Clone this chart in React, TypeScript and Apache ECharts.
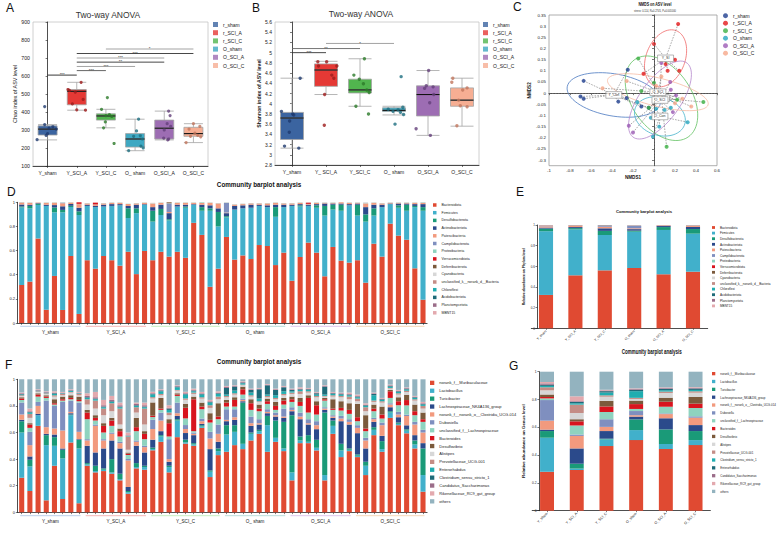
import { useEffect, useRef } from "react";
import * as echarts from "echarts";

const FONT = "'Liberation Sans', Arial, sans-serif";

// ---------- shared groups ----------
const groupNames = ["Y_sham", "Y_SCI_A", "Y_SCI_C", "O_sham", "O_SCI_A", "O_SCI_C"];
const legendGroups = ["r_sham", "r_SCI_A", "r_SCI_C", "O_sham", "O_SCI_A", "O_SCI_C"];
const catsA = ["Y_sham", "Y_SCI_A", "Y_SCI_C", "O_ sham", "O_SCI_A", "O_SCI_C"];
const catsB = ["Y_sham", "Y_ SCI_A", "Y_SCI_C", "O_ sham", "O_SCI_A", "O_SCI_C"];
const barGroupLabels = ["Y_sham", "Y_SCI_A", "Y_SCI_C", "O_ sham", "O_SCI_A", "O_SCI_C"];
const groupSizes = [8, 8, 9, 8, 8, 9];
const boxColors = ["#3b64a0", "#e53935", "#51b54e", "#3ea8c2", "#9d6db3", "#f6ae93"];
const dotColors = ["#1e3a6e", "#9e1b1b", "#2c7a29", "#1d6e80", "#64407a", "#c2765c"];
const underlineColors = ["#a9c3e3", "#f2a3a3", "#b5eab0", "#a6d4d2", "#d5b6e6", "#f2cda6"];

// ---------- A: Chao ----------
const chaoBox = [
  [245, 272, 305, 323, 330],
  [410, 440, 515, 525, 565],
  [312, 355, 378, 390, 415],
  [185, 205, 250, 280, 360],
  [245, 250, 310, 355, 405],
  [230, 265, 280, 315, 335],
];
const chaoPts = [
  [[-0.36, 246], [-0.1, 430], [-0.1, 330], [0.18, 318], [0.05, 310], [0.3, 305], [0.0, 280], [-0.05, 270]],
  [[-0.3, 525], [-0.25, 520], [-0.05, 510], [0.15, 565], [0.22, 470], [0.0, 412], [0.3, 410], [-0.15, 445]],
  [[0.05, 480], [-0.15, 415], [0.12, 385], [0.0, 380], [0.2, 375], [-0.02, 345], [-0.08, 312], [0.28, 225]],
  [[0.12, 360], [0.05, 295], [-0.05, 265], [0.18, 268], [0.25, 250], [0.2, 210], [0.28, 200], [-0.22, 185]],
  [[0.15, 405], [0.2, 380], [0.1, 335], [0.22, 320], [0.0, 300], [-0.02, 255], [0.12, 245], [0.15, 250]],
  [[0.0, 335], [0.22, 320], [-0.15, 305], [0.05, 282], [0.15, 270], [-0.1, 265], [0.25, 262], [-0.25, 230]],
];
const sigA = [[0, 1, 605], [1, 2, 630], [1, 3, 653], [1, 4, 677], [1, 4, 700], [1, 5, 725], [2, 5, 750]];
const sigALabels = ["***", "***", "***", "**", "***", "***", "*"];
const sigAColors = ["#222", "#555", "#999", "#333", "#999", "#333", "#999"];

// ---------- B: Shannon ----------
const shanBox = [
  [3.13, 3.3, 3.72, 3.83, 4.5],
  [4.18, 4.34, 4.66, 4.78, 4.83],
  [3.95, 4.21, 4.27, 4.48, 4.88],
  [3.78, 3.85, 3.87, 3.92, 3.95],
  [3.38, 3.76, 4.18, 4.35, 4.65],
  [3.56, 3.95, 4.07, 4.31, 4.5],
];
const shanPts = [
  [[-0.31, 3.85], [0.02, 3.8], [0.05, 3.78], [-0.07, 3.66], [-0.08, 3.44], [-0.22, 3.17], [0.2, 3.13], [0.24, 4.5]],
  [[-0.24, 4.82], [0.02, 4.82], [-0.22, 4.74], [0.32, 4.74], [0.17, 4.56], [0.23, 4.5], [-0.04, 4.18], [-0.05, 3.58]],
  [[0.13, 4.88], [-0.18, 4.56], [-0.02, 4.48], [0.1, 4.39], [0.2, 4.27], [0.27, 4.22], [-0.12, 3.95], [0.25, 3.8]],
  [[0.21, 4.53], [0.26, 3.93], [0.12, 3.88], [-0.03, 3.85], [-0.17, 3.89], [0.19, 3.83], [0.03, 3.6], [0.28, 3.79]],
  [[0.02, 4.65], [-0.05, 4.35], [0.15, 4.33], [0.17, 4.18], [0.05, 4.02], [-0.35, 3.51], [0.07, 3.38], [-0.1, 4.3]],
  [[-0.27, 4.5], [-0.3, 4.42], [0.15, 4.31], [0.02, 4.27], [-0.1, 4.07], [-0.05, 3.96], [0.15, 3.94], [-0.15, 3.57]],
];
const sigB = [[0, 1, 5.0], [0, 2, 5.08], [1, 3, 5.18]];
const sigBLabels = ["***", "**", "*"];
const sigBColors = ["#333", "#666", "#999"];

// ---------- C: NMDS ----------
const nmdsPts = [
  [[-0.67, 0.055], [-0.7, -0.015], [-0.67, -0.025], [-0.25, 0.105], [-0.34, -0.038], [-0.26, -0.022], [-0.05, -0.065], [-0.12, -0.06]],
  [[0.23, 0.31], [0.0, 0.22], [0.2, 0.15], [0.11, 0.13], [0.24, 0.1], [0.13, 0.1], [-0.1, 0.087], [0.07, 0.15]],
  [[-0.15, 0.155], [0.47, -0.04], [0.12, -0.24], [-0.12, 0.01], [-0.05, -0.065], [0.0, 0.047], [0.08, -0.02], [0.22, -0.03]],
  [[-0.01, -0.195], [0.05, -0.15], [0.32, -0.13], [-0.03, -0.11], [0.02, -0.07], [-0.16, -0.04], [0.16, -0.065], [0.1, -0.075]],
  [[-0.24, -0.146], [-0.2, -0.176], [0.18, -0.085], [0.16, 0.015], [0.155, 0.05], [0.07, 0.135], [0.21, -0.01], [0.12, -0.03]],
  [[-0.49, 0.022], [-0.26, 0.054], [0.02, 0.033], [0.27, -0.025], [0.355, -0.06], [0.07, 0.075], [0.2, -0.045], [0.13, -0.02]],
];
const centroidLabels = ["Y_Con", "Y_SI", "Y_SC", "O_Con", "O_SCI", "O_SCI"];
const cDotColors = ["#1f3f8f", "#e41a1c", "#3cb044", "#27a6bf", "#9c5bb5", "#f6a889"];
const cEllColors = ["#4a78c0", "#f06a6a", "#62c262", "#45b3cb", "#b486cc", "#f6bba3"];
const cTicksY = [-0.3, -0.25, -0.2, -0.15, -0.1, -0.05, 0, 0.05, 0.1, 0.15, 0.2, 0.25, 0.3, 0.35];

// ---------- D / E: phylum ----------
const phylumNames = [
  "Bacteroidota", "Firmicutes", "Desulfobacterota", "Actinobacteriota", "Patescibacteria",
  "Campilobacterota", "Proteobacteria", "Verrucomicrobiota", "Deferribacterota", "Cyanobacteria",
  "unclassified_k__norank_d__Bacteria", "Chloroflexi", "Acidobacteriota", "Planctomycetota", "MBNT15",
];
const palette = [
  "#e04a32", "#41b0cb", "#1a9a78", "#2b4a8b", "#f29a7e", "#7f8fbf", "#8fd3bf", "#d8141e",
  "#7b5a3c", "#d7d7d7", "#c48d86", "#20adb0", "#1e6a78", "#9b6d89", "#e3a9ae", "#93b3bf",
];
const phBacteroidota = [0.315, 0.343, 0.7, 0.11, 0.39, 0.108, 0.555, 0.075, 0.52, 0.45, 0.555, 0.52, 0.475, 0.59, 0.405, 0.597, 0.52, 0.59, 0.55, 0.59, 0.54, 0.83, 0.73, 0.3, 0.45, 0.713, 0.525, 0.56, 0.53, 0.646, 0.638, 0.48, 0.583, 0.35, 0.547, 0.666, 0.583, 0.387, 0.63, 0.517, 0.5, 0.52, 0.334, 0.657, 0.55, 0.823, 0.724, 0.69, 0.453, 0.193];
const phFirmicutes = [0.641, 0.607, 0.278, 0.86, 0.527, 0.809, 0.406, 0.82, 0.45, 0.51, 0.41, 0.45, 0.5, 0.28, 0.505, 0.383, 0.32, 0.305, 0.3, 0.375, 0.415, 0.15, 0.2, 0.63, 0.35, 0.162, 0.415, 0.39, 0.425, 0.324, 0.322, 0.4, 0.377, 0.62, 0.418, 0.304, 0.372, 0.503, 0.31, 0.413, 0.475, 0.37, 0.506, 0.233, 0.41, 0.162, 0.231, 0.24, 0.507, 0.737];
const phDesulfo = [0.01, 0.02, 0.01, 0, 0.04, 0.02, 0.01, 0.03, 0, 0, 0, 0, 0, 0.08, 0.04, 0, 0.09, 0.05, 0.01, 0, 0.01, 0, 0.03, 0.02, 0.12, 0.01, 0, 0, 0, 0, 0, 0.08, 0, 0, 0.01, 0, 0.02, 0.08, 0.04, 0.05, 0, 0.09, 0.06, 0.06, 0, 0, 0.02, 0.05, 0.01, 0.03];
const phActino = [0.015, 0.01, 0.005, 0.01, 0.02, 0.03, 0.015, 0.03, 0.01, 0.01, 0.015, 0.015, 0.01, 0.02, 0.03, 0.005, 0.03, 0.035, 0.05, 0.015, 0.015, 0.005, 0.02, 0.025, 0.03, 0.025, 0.03, 0.025, 0.025, 0.01, 0.015, 0.02, 0.02, 0.01, 0.01, 0.01, 0.01, 0.02, 0.01, 0.01, 0.01, 0.01, 0.06, 0.03, 0.02, 0.005, 0.015, 0.01, 0.015, 0.025];
const phPatesci = [0.015, 0.015, 0.005, 0.015, 0.02, 0.025, 0.012, 0.03, 0.01, 0.01, 0.01, 0.01, 0.01, 0.015, 0.01, 0.01, 0.03, 0.015, 0.01, 0.015, 0.015, 0.01, 0.015, 0.02, 0.04, 0.005, 0.01, 0.01, 0.01, 0.01, 0.015, 0.015, 0.01, 0.01, 0.01, 0.005, 0.01, 0.005, 0.005, 0.01, 0.01, 0.005, 0.03, 0.015, 0.01, 0.005, 0.005, 0.005, 0.01, 0.01];
const phCampilo = [0, 0, 0, 0, 0, 0.005, 0, 0, 0, 0, 0, 0, 0, 0, 0, 0, 0, 0, 0.07, 0, 0, 0, 0, 0, 0, 0.08, 0, 0, 0, 0, 0, 0, 0, 0, 0, 0, 0, 0, 0, 0, 0, 0, 0, 0, 0, 0, 0, 0, 0, 0];
const phProteo = [0.002, 0.002, 0.001, 0.002, 0.002, 0.002, 0.002, 0.002, 0.002, 0.002, 0.002, 0.002, 0.002, 0.002, 0.002, 0.002, 0.002, 0.002, 0.002, 0.002, 0.002, 0.002, 0.005, 0.002, 0.002, 0.002, 0.002, 0.002, 0.002, 0.002, 0.002, 0.002, 0.002, 0.002, 0.002, 0.002, 0.002, 0.002, 0.002, 0.002, 0.002, 0.002, 0.002, 0.002, 0.002, 0.002, 0.002, 0.002, 0.002, 0.002];
const phVerruco = [0, 0, 0, 0, 0, 0, 0, 0.015, 0, 0.015, 0, 0, 0, 0, 0, 0, 0, 0, 0, 0, 0, 0, 0, 0, 0, 0, 0, 0, 0, 0, 0, 0, 0, 0, 0, 0.01, 0, 0, 0, 0, 0, 0, 0, 0, 0, 0, 0, 0, 0, 0];
const phDeferri = [0, 0, 0, 0, 0, 0, 0, 0, 0, 0, 0, 0, 0, 0, 0, 0, 0, 0, 0.01, 0, 0, 0, 0, 0, 0, 0, 0, 0, 0, 0, 0, 0, 0, 0, 0, 0, 0, 0, 0, 0, 0, 0, 0, 0, 0, 0, 0, 0, 0, 0];
const phCyano = [0.001, 0.001, 0.001, 0.001, 0.001, 0.001, 0.001, 0.001, 0.001, 0.001, 0.001, 0.001, 0.001, 0.001, 0.001, 0.001, 0.002, 0.001, 0.001, 0.001, 0.001, 0.001, 0.001, 0.001, 0.001, 0.001, 0.001, 0.001, 0.001, 0.001, 0.001, 0.001, 0.001, 0.001, 0.001, 0.001, 0.001, 0.001, 0.001, 0.001, 0.001, 0.001, 0.001, 0.001, 0.001, 0.001, 0.001, 0.001, 0.001, 0.001];
const phUnclass = [0.001, 0.001, 0.001, 0.001, 0.001, 0.001, 0.001, 0.001, 0.001, 0.001, 0.001, 0.001, 0.001, 0.001, 0.001, 0.001, 0.001, 0.001, 0.001, 0.001, 0.001, 0.001, 0.001, 0.001, 0.001, 0.001, 0.001, 0.001, 0.001, 0.001, 0.001, 0.001, 0.001, 0.001, 0.001, 0.001, 0.001, 0.001, 0.001, 0.001, 0.001, 0.001, 0.002, 0.001, 0.001, 0.001, 0.001, 0.001, 0.001, 0.001];
const phChloro = [0.001, 0, 0, 0, 0, 0, 0, 0, 0, 0, 0, 0, 0, 0, 0, 0, 0, 0, 0, 0, 0, 0, 0, 0, 0, 0, 0, 0, 0, 0, 0, 0, 0, 0, 0, 0, 0, 0, 0, 0, 0, 0, 0, 0, 0, 0, 0, 0, 0, 0.001];
const phAcido = [0, 0, 0, 0, 0, 0, 0, 0, 0, 0, 0, 0, 0, 0, 0, 0, 0, 0, 0, 0, 0, 0, 0, 0, 0, 0, 0, 0, 0, 0, 0, 0, 0, 0, 0, 0, 0, 0, 0, 0, 0, 0, 0.001, 0, 0, 0, 0, 0, 0, 0];
const phPlancto = [0, 0, 0, 0, 0, 0, 0, 0, 0, 0, 0, 0, 0, 0, 0, 0, 0, 0, 0, 0, 0, 0, 0, 0, 0, 0, 0, 0, 0, 0, 0, 0, 0, 0, 0, 0, 0, 0, 0, 0, 0, 0, 0, 0, 0, 0, 0, 0, 0, 0];
const phMBNT15 = [0, 0, 0, 0, 0, 0, 0, 0, 0, 0, 0, 0, 0, 0, 0, 0, 0, 0, 0, 0, 0, 0, 0, 0, 0, 0, 0, 0, 0, 0, 0, 0, 0, 0, 0, 0, 0, 0, 0, 0, 0, 0, 0, 0, 0, 0, 0, 0, 0, 0];
const phylumSamples = [phBacteroidota, phFirmicutes, phDesulfo, phActino, phPatesci, phCampilo, phProteo, phVerruco, phDeferri, phCyano, phUnclass, phChloro, phAcido, phPlancto, phMBNT15];

const eBacteroidota = [0.323, 0.513, 0.561, 0.584, 0.523, 0.548];
const eFirmicutes = [0.617, 0.445, 0.342, 0.351, 0.429, 0.368];
const eDesulfo = [0.025, 0.012, 0.04, 0.01, 0.028, 0.045];
const eActino = [0.01, 0.01, 0.025, 0.015, 0.01, 0.02];
const ePatesci = [0.012, 0.012, 0.015, 0.008, 0.005, 0.012];
const eCampilo = [0.005, 0.002, 0.012, 0.025, 0.001, 0.002];
const eProteo = [0.002, 0.002, 0.002, 0.002, 0.001, 0.002];
const eVerruco = [0.002, 0.002, 0.001, 0.001, 0.001, 0.001];
const eDeferri = [0.001, 0.001, 0.002, 0.001, 0.001, 0.001];
const eCyano = [0.001, 0.001, 0.001, 0.001, 0.001, 0.001];
const eUnclass = [0.001, 0.001, 0.001, 0.001, 0.001, 0.002];
const eChloro = [0, 0, 0, 0, 0, 0];
const eAcido = [0, 0, 0, 0, 0, 0];
const ePlancto = [0, 0, 0, 0, 0, 0];
const eMBNT15 = [0, 0, 0, 0, 0, 0];
const phylumGroups = [eBacteroidota, eFirmicutes, eDesulfo, eActino, ePatesci, eCampilo, eProteo, eVerruco, eDeferri, eCyano, eUnclass, eChloro, eAcido, ePlancto, eMBNT15];

// ---------- F / G: genus ----------
const genusNames = [
  "norank_f__Muribaculaceae", "Lactobacillus", "Turicibacter", "Lachnospiraceae_NK4A136_group",
  "norank_f__norank_o__Clostridia_UCG-014", "Dubosiella", "unclassified_f__Lachnospiraceae", "Bacteroides",
  "Desulfovibrio", "Alistipes", "Prevotellaceae_UCG-001", "Enterorhabdus", "Clostridium_sensu_stricto_1",
  "Candidatus_Saccharimonas", "Rikenellaceae_RC9_gut_group", "others",
];
const genusNamesG = [
  "norank_f__Muribaculaceae", "Lactobacillus", "Turicibacter", "Lachnospiraceae_NK4A136_group",
  "norank_f__norank_o__Clostridia_UCG-014", "Dubosiella", "unclassified_f__Lachnospiraceae", "Bacteroides",
  "Desulfovibrio", "Alistipes", "Prevotellaceae_UCG-001", "Clostridium_sensu_stricto_1", "Enterorhabdus",
  "Candidatus_Saccharimonas", "Rikenellaceae_RC9_gut_group", "others",
];
// rows: one sample each, columns in genusNames order
const genusYsham = [
  [0.26, 0.34, 0.085, 0.01, 0.04, 0.09, 0.02, 0.01, 0.01, 0.01, 0.005, 0.005, 0.005, 0.005, 0.005, 0.1],
  [0.16, 0.185, 0.05, 0.025, 0.085, 0.1, 0.03, 0.025, 0.01, 0.04, 0.03, 0.01, 0.005, 0.005, 0.02, 0.22],
  [0.65, 0.08, 0, 0.01, 0.06, 0.03, 0.04, 0.015, 0.01, 0.01, 0.005, 0.005, 0, 0.005, 0.005, 0.075],
  [0.09, 0.415, 0.075, 0.01, 0.05, 0.2, 0.02, 0.01, 0.01, 0.01, 0.005, 0.005, 0, 0.005, 0.005, 0.09],
  [0.35, 0.15, 0.065, 0.02, 0.045, 0.17, 0.01, 0.01, 0.03, 0.02, 0.01, 0.01, 0.005, 0.005, 0.01, 0.09],
  [0.1, 0.305, 0.065, 0.01, 0.135, 0.215, 0.01, 0.01, 0.02, 0.01, 0.01, 0.005, 0, 0.005, 0.005, 0.095],
  [0.525, 0.205, 0.005, 0.01, 0.01, 0.085, 0.01, 0.01, 0.02, 0.02, 0.005, 0.01, 0, 0.005, 0.005, 0.075],
  [0.068, 0.412, 0.065, 0.005, 0.055, 0.22, 0.01, 0.01, 0.025, 0.01, 0.01, 0.005, 0, 0.005, 0.005, 0.095],
];
const genusYSCIA = [
  [0.35, 0.01, 0.01, 0.13, 0.04, 0.01, 0.15, 0.05, 0.02, 0.04, 0.04, 0.01, 0.005, 0.01, 0.02, 0.105],
  [0.3, 0.01, 0.04, 0.1, 0.2, 0.01, 0.03, 0.02, 0.02, 0.05, 0.06, 0.01, 0.005, 0.01, 0.04, 0.095],
  [0.31, 0.01, 0.01, 0.15, 0.06, 0.01, 0.05, 0.05, 0.02, 0.06, 0.05, 0.01, 0.005, 0.01, 0.04, 0.155],
  [0.29, 0.01, 0.1, 0.14, 0.05, 0.01, 0.05, 0.04, 0.02, 0.05, 0.06, 0.01, 0.005, 0.01, 0.03, 0.125],
  [0.24, 0.01, 0.04, 0.19, 0.04, 0.01, 0.04, 0.04, 0.02, 0.03, 0.12, 0.01, 0.005, 0.01, 0.02, 0.175],
  [0.14, 0.01, 0.01, 0.03, 0.2, 0.01, 0.03, 0.01, 0.01, 0.02, 0.1, 0.005, 0, 0.005, 0.02, 0.4],
  [0.33, 0.01, 0.03, 0.13, 0.03, 0.01, 0.07, 0.03, 0.07, 0.04, 0.04, 0.01, 0.005, 0.01, 0.01, 0.175],
  [0.32, 0.02, 0.01, 0.1, 0.04, 0.01, 0.05, 0.04, 0.02, 0.05, 0.12, 0.01, 0.005, 0.01, 0.02, 0.175],
];
const genusYSCIC = [
  [0.466, 0.01, 0.01, 0.06, 0.08, 0.07, 0.02, 0.01, 0.1, 0.03, 0.01, 0.02, 0.005, 0.005, 0.01, 0.094],
  [0.53, 0.04, 0.01, 0.03, 0.08, 0.06, 0.02, 0.01, 0.08, 0.02, 0.01, 0.02, 0.005, 0.005, 0.005, 0.075],
  [0.3, 0.04, 0.01, 0.03, 0.02, 0.15, 0.02, 0.1, 0.03, 0.03, 0.02, 0.02, 0.01, 0.005, 0.02, 0.195],
  [0.565, 0.125, 0.01, 0.025, 0.02, 0.08, 0.05, 0.01, 0.01, 0.02, 0.005, 0.02, 0.005, 0.005, 0.005, 0.045],
  [0.516, 0.01, 0.02, 0.05, 0.03, 0.03, 0.05, 0.08, 0.03, 0.03, 0.01, 0.03, 0.005, 0.005, 0.01, 0.094],
  [0.5, 0.01, 0.01, 0.06, 0.01, 0.01, 0.01, 0.24, 0.02, 0.02, 0.01, 0.01, 0.005, 0.005, 0.01, 0.07],
  [0.635, 0.01, 0.01, 0.01, 0.02, 0.02, 0.07, 0.02, 0.03, 0.03, 0.01, 0.02, 0.005, 0.005, 0.01, 0.095],
  [0.265, 0.04, 0.01, 0.16, 0.08, 0.05, 0.07, 0.02, 0.05, 0.04, 0.02, 0.02, 0.005, 0.005, 0.01, 0.155],
  [0.43, 0.03, 0.02, 0.05, 0.06, 0.07, 0.04, 0.02, 0.1, 0.03, 0.02, 0.02, 0.005, 0.005, 0.01, 0.09],
];
const genusOsham = [
  [0.455, 0.13, 0.07, 0.03, 0.01, 0.08, 0.02, 0.03, 0.02, 0.02, 0.01, 0.01, 0.05, 0.01, 0.005, 0.05],
  [0.505, 0.1, 0.05, 0.04, 0.02, 0.06, 0.02, 0.05, 0.02, 0.02, 0.01, 0.02, 0.03, 0.005, 0.005, 0.045],
  [0.475, 0.04, 0.31, 0.01, 0.01, 0.01, 0.03, 0.04, 0.02, 0.01, 0.005, 0.01, 0.005, 0.005, 0.005, 0.015],
  [0.54, 0.05, 0.01, 0.05, 0.02, 0.05, 0.05, 0.05, 0.03, 0.02, 0.01, 0.02, 0.02, 0.005, 0.005, 0.07],
  [0.59, 0.02, 0.01, 0.04, 0.01, 0.03, 0.06, 0.02, 0.03, 0.02, 0.005, 0.02, 0.07, 0.005, 0.005, 0.065],
  [0.455, 0.2, 0.07, 0.02, 0.01, 0.02, 0.04, 0.02, 0.02, 0.01, 0.01, 0.01, 0.07, 0.005, 0.005, 0.035],
  [0.53, 0.03, 0.13, 0.03, 0.01, 0.02, 0.02, 0.03, 0.03, 0.02, 0.01, 0.02, 0.04, 0.005, 0.005, 0.07],
  [0.46, 0.02, 0.2, 0.03, 0.01, 0.06, 0.03, 0.03, 0.02, 0.02, 0.01, 0.02, 0.03, 0.005, 0.005, 0.05],
];
const genusOSCIA = [
  [0.24, 0.06, 0.43, 0.03, 0.01, 0.02, 0.04, 0.02, 0.02, 0.02, 0.01, 0.01, 0.01, 0.005, 0.005, 0.07],
  [0.52, 0.02, 0.03, 0.13, 0.02, 0.03, 0.05, 0.03, 0.03, 0.03, 0.02, 0.01, 0.005, 0.005, 0.01, 0.06],
  [0.52, 0.01, 0.05, 0.08, 0.01, 0.03, 0.05, 0.11, 0.02, 0.02, 0.01, 0.01, 0.005, 0.005, 0.005, 0.065],
  [0.465, 0.02, 0.06, 0.08, 0.03, 0.03, 0.05, 0.07, 0.03, 0.03, 0.01, 0.01, 0.01, 0.005, 0.005, 0.095],
  [0.24, 0.04, 0.47, 0.02, 0.01, 0.01, 0.05, 0.01, 0.01, 0.01, 0.005, 0.01, 0.06, 0.005, 0.005, 0.045],
  [0.59, 0.06, 0.04, 0.02, 0.01, 0.01, 0.04, 0.01, 0.07, 0.02, 0.01, 0.01, 0.005, 0.005, 0.005, 0.095],
  [0.415, 0.05, 0.05, 0.17, 0.02, 0.02, 0.04, 0.02, 0.05, 0.03, 0.01, 0.01, 0.005, 0.005, 0.005, 0.1],
  [0.46, 0.01, 0.01, 0.18, 0.02, 0.02, 0.04, 0.03, 0.05, 0.03, 0.02, 0.01, 0.005, 0.005, 0.01, 0.1],
];
const genusOSCIC = [
  [0.415, 0.01, 0.01, 0.16, 0.04, 0.02, 0.03, 0.03, 0.1, 0.02, 0.02, 0.01, 0.005, 0.005, 0.01, 0.115],
  [0.28, 0.07, 0.03, 0.1, 0.06, 0.02, 0.05, 0.02, 0.1, 0.03, 0.03, 0.01, 0.005, 0.005, 0.01, 0.18],
  [0.58, 0.04, 0.02, 0.04, 0.02, 0.01, 0.05, 0.02, 0.03, 0.02, 0.01, 0.04, 0.01, 0.005, 0.005, 0.1],
  [0.455, 0.02, 0.06, 0.04, 0.08, 0.02, 0.03, 0.03, 0.06, 0.03, 0.01, 0.01, 0.005, 0.005, 0.005, 0.14],
  [0.71, 0.04, 0.01, 0.03, 0.02, 0.01, 0.04, 0.05, 0.01, 0.01, 0.005, 0.01, 0.005, 0.005, 0.005, 0.04],
  [0.655, 0.01, 0.01, 0.04, 0.02, 0.02, 0.05, 0.03, 0.03, 0.02, 0.01, 0.01, 0.005, 0.005, 0.005, 0.08],
  [0.594, 0.02, 0.01, 0.03, 0.07, 0.01, 0.07, 0.04, 0.04, 0.02, 0.01, 0.01, 0.005, 0.005, 0.005, 0.061],
  [0.48, 0.03, 0.03, 0.04, 0.08, 0.02, 0.05, 0.03, 0.05, 0.03, 0.01, 0.01, 0.005, 0.005, 0.005, 0.125],
  [0.155, 0.125, 0.2, 0.04, 0.08, 0.02, 0.06, 0.02, 0.05, 0.03, 0.02, 0.01, 0.005, 0.005, 0.01, 0.17],
];
// G: group means, columns in genusNamesG order
const genusGroupRows = [
  [0.28, 0.245, 0.048, 0.01, 0.065, 0.148, 0.012, 0.01, 0.018, 0.03, 0.022, 0.01, 0.008, 0.01, 0.01, 0.074],
  [0.293, 0.01, 0.035, 0.11, 0.09, 0.01, 0.065, 0.03, 0.015, 0.045, 0.06, 0.01, 0.01, 0.005, 0.035, 0.177],
  [0.465, 0.048, 0.005, 0.055, 0.03, 0.055, 0.052, 0.04, 0.04, 0.03, 0.01, 0.02, 0.01, 0.005, 0.005, 0.13],
  [0.508, 0.072, 0.077, 0.02, 0.01, 0.03, 0.015, 0.035, 0.025, 0.012, 0.008, 0.048, 0.01, 0.005, 0.005, 0.12],
  [0.444, 0.036, 0.105, 0.08, 0.03, 0.005, 0.048, 0.036, 0.029, 0.034, 0.01, 0.01, 0.01, 0.005, 0.005, 0.113],
  [0.472, 0.036, 0.065, 0.043, 0.053, 0.01, 0.06, 0.031, 0.048, 0.031, 0.01, 0.01, 0.01, 0.005, 0.005, 0.111],
];
const genusSampleRows = [...genusYsham, ...genusYSCIA, ...genusYSCIC, ...genusOsham, ...genusOSCIA, ...genusOSCIC];

// ---------- helpers ----------
const sampleIds = groupNames.flatMap((g, i) => Array.from({ length: groupSizes[i] }, (_, k) => `${g}_${k + 1}`));
const groupRanges = (() => {
  const out: number[][] = [];
  let s = 0;
  groupSizes.forEach((n, i) => { out.push([s, s + n - 1, i]); s += n; });
  return out;
})();
const fmt1 = (v: number) => String(Math.round(v * 10) / 10);
const fmt2 = (v: number) => String(Math.round(v * 100) / 100);

function stats(pts: number[][]) {
  const n = pts.length;
  const mx = pts.reduce((a, p) => a + p[0], 0) / n;
  const my = pts.reduce((a, p) => a + p[1], 0) / n;
  let sxx = 0, syy = 0, sxy = 0;
  pts.forEach((p) => { sxx += (p[0] - mx) ** 2; syy += (p[1] - my) ** 2; sxy += (p[0] - mx) * (p[1] - my); });
  return { mx, my, sxx: sxx / (n - 1), syy: syy / (n - 1), sxy: sxy / (n - 1) };
}

function txt(text: string, x: number, y: number, size: number, extra: any = {}) {
  const { align = "center", weight = "normal", scaleX = 1, rotation = 0, color = "#111" } = extra;
  return {
    type: "text", x, y, scaleX, rotation, silent: true,
    style: {
      text, fontSize: size, fontFamily: FONT, fontWeight: weight, fill: color,
      textAlign: align, align, textVerticalAlign: "middle", verticalAlign: "middle",
    },
  };
}

const axisLineDark = { show: true, lineStyle: { color: "#222", width: 0.8 } };
const tickDark = (len = 2) => ({ show: true, length: len, lineStyle: { color: "#222", width: 0.6 } });
const lab = (size: number, extra: any = {}) => ({ fontSize: size, color: "#222", fontFamily: FONT, ...extra });

function legendOf(left: number, top: number, names: string[], colors: string[], icon: string, w: number, h: number, gap: number, fs: number) {
  return {
    left, top, orient: "vertical", padding: 0, itemWidth: w, itemHeight: h, itemGap: gap,
    icon, selectedMode: false,
    textStyle: { fontSize: fs, fontFamily: FONT, color: "#222", lineHeight: h, padding: 0 },
    data: names.map((n, i) => ({ name: n, icon, itemStyle: { color: colors[i], borderWidth: 0 } })),
  };
}

function sigSeries(xAxisIndex: number, yAxisIndex: number, lines: number[][], labels: string[], colors: string[]) {
  return {
    type: "custom", xAxisIndex, yAxisIndex, silent: true, z: 5,
    encode: { x: [0, 1], y: 2 },
    data: lines,
    renderItem: (params: any, api: any) => {
      const i = params.dataIndex;
      const p1 = api.coord([api.value(0), api.value(2)]);
      const p2 = api.coord([api.value(1), api.value(2)]);
      return {
        type: "group",
        children: [
          { type: "line", shape: { x1: p1[0], y1: p1[1], x2: p2[0], y2: p2[1] }, style: { stroke: colors[i], lineWidth: 0.9 } },
          {
            type: "text",
            style: {
              text: labels[i], x: (p1[0] + p2[0]) / 2, y: p1[1] + 1.6, fontSize: 4.3, fontFamily: FONT, fill: "#222",
              textAlign: "center", align: "center", textVerticalAlign: "bottom", verticalAlign: "bottom",
            },
          },
        ],
      };
    },
  };
}

function medianSeries(xAxisIndex: number, yAxisIndex: number, boxes: number[][], halfW: number) {
  return {
    type: "custom", xAxisIndex, yAxisIndex, silent: true, z: 4,
    data: boxes.map((b, i) => [i, b[2]]),
    renderItem: (_p: any, api: any) => {
      const c = api.coord([api.value(0), api.value(1)]);
      return { type: "line", shape: { x1: c[0] - halfW, y1: c[1], x2: c[0] + halfW, y2: c[1] }, style: { stroke: "#111", lineWidth: 1.1 } };
    },
  };
}

function boxSeries(xAxisIndex: number, yAxisIndex: number, boxes: number[][], w: number) {
  return {
    type: "boxplot", xAxisIndex, yAxisIndex, boxWidth: [w, w], silent: true, z: 2,
    data: boxes.map((v, i) => ({ value: v, itemStyle: { color: boxColors[i], borderColor: "#a3a3a3", borderWidth: 0.8 } })),
  };
}

function jitterSeries(xAxisIndex: number, yAxisIndex: number, pts: number[][][], size: number) {
  return {
    type: "scatter", xAxisIndex, yAxisIndex, symbolSize: size, silent: true, z: 6,
    data: pts.flatMap((arr, g) => arr.map(([o, v]) => ({ value: [g + o, v], itemStyle: { color: dotColors[g] } }))),
  };
}

function groupUnderline(xAxisIndex: number, yAxisIndex: number, dy: number) {
  return {
    type: "custom", xAxisIndex, yAxisIndex, silent: true,
    encode: { x: [0, 1], y: 2 },
    data: groupRanges,
    renderItem: (params: any, api: any) => {
      const g = params.dataIndex;
      const p1 = api.coord([api.value(0), 0]);
      const p2 = api.coord([api.value(1), 0]);
      const y = p1[1] + dy;
      return {
        type: "group",
        children: [
          { type: "line", shape: { x1: p1[0] - 1.5, y1: y, x2: p2[0] + 1.5, y2: y }, style: { stroke: underlineColors[g], lineWidth: 0.8 } },
          {
            type: "text",
            style: {
              text: barGroupLabels[g], x: (p1[0] + p2[0]) / 2, y: y + 6, fontSize: 4.6, fontFamily: FONT, fill: "#222",
              textAlign: "center", align: "center", textVerticalAlign: "middle", verticalAlign: "middle",
            },
          },
        ],
      };
    },
  };
}

function buildOption() {
  const grids = [
    { left: 33, top: 22, width: 175, height: 144, show: true, borderColor: "#c4c4c4", borderWidth: 0.8 },
    { left: 275, top: 22, width: 204, height: 143, show: true, borderColor: "#c4c4c4", borderWidth: 0.8 },
    { left: 549, top: 15, width: 168, height: 150.7, show: true, borderColor: "#9a9a9a", borderWidth: 0.8 },
    { left: 17.6, top: 202.3, width: 409.5, height: 120.7 },
    { left: 531.3, top: 225, width: 176.4, height: 103.3 },
    { left: 17.6, top: 379.3, width: 409.5, height: 133 },
    { left: 532.2, top: 371.7, width: 178.2, height: 139 },
  ].map((g) => ({ ...g, containLabel: false, outerBoundsMode: "none" }));

  const xAxis = [
    { type: "category", gridIndex: 0, data: catsA, axisLine: axisLineDark, axisTick: { ...tickDark(), alignWithLabel: true }, axisLabel: lab(5, { margin: 4, interval: 0 }) },
    { type: "value", gridIndex: 0, min: -0.5, max: 5.5, show: false },
    { type: "category", gridIndex: 1, data: catsB, axisLine: axisLineDark, axisTick: { ...tickDark(), alignWithLabel: true }, axisLabel: lab(5, { margin: 4, interval: 0 }) },
    { type: "value", gridIndex: 1, min: -0.5, max: 5.5, show: false },
    {
      type: "value", gridIndex: 2, min: -1, max: 0.6, interval: 0.2, axisLine: axisLineDark, axisTick: tickDark(),
      axisLabel: lab(4.4, { margin: 3, formatter: fmt2 }), splitLine: { show: false },
      name: "NMDS1", nameLocation: "middle", nameGap: 9, nameTextStyle: { fontSize: 4.6, fontWeight: "bold", fontFamily: FONT, color: "#111" },
    },
    { type: "category", gridIndex: 3, data: sampleIds, axisLine: axisLineDark, axisTick: { ...tickDark(1.8), interval: 0, alignWithLabel: true }, axisLabel: { show: false } },
    { type: "category", gridIndex: 4, data: groupNames, axisLine: axisLineDark, axisTick: { ...tickDark(1.5), alignWithLabel: true }, axisLabel: lab(3.4, { rotate: 45, margin: 2.5, interval: 0 }) },
    { type: "category", gridIndex: 5, data: sampleIds, axisLine: axisLineDark, axisTick: { ...tickDark(1.8), interval: 0, alignWithLabel: true }, axisLabel: { show: false } },
    { type: "category", gridIndex: 6, data: groupNames, axisLine: axisLineDark, axisTick: { ...tickDark(1.5), alignWithLabel: true }, axisLabel: lab(3.6, { rotate: 45, margin: 2.5, interval: 0 }) },
  ];

  const yName = (text: string, gap: number, size: number, bold = false) => ({
    name: text, nameLocation: "middle", nameGap: gap,
    nameTextStyle: { fontSize: size, fontFamily: FONT, color: "#111", fontWeight: bold ? "bold" : "normal" },
  });
  const abundanceAxis = (gridIndex: number, size: number, extra: any) => ({
    type: "value", gridIndex, min: 0, max: 1, interval: 0.2, axisLine: axisLineDark, axisTick: tickDark(1.8),
    axisLabel: lab(size, { margin: 2.5, formatter: fmt1 }), splitLine: { show: false }, ...extra,
  });

  const yAxis = [
    { type: "value", gridIndex: 0, min: 100, max: 900, interval: 100, axisLine: axisLineDark, axisTick: tickDark(), axisLabel: lab(5.2, { margin: 3 }), splitLine: { show: false }, ...yName("Chao index of ASV level", 13, 5.4) },
    { type: "value", gridIndex: 1, min: 2.8, max: 5.6, interval: 0.2, axisLine: axisLineDark, axisTick: tickDark(), axisLabel: lab(5, { margin: 3, formatter: fmt1 }), splitLine: { show: false }, ...yName("Shannon index of ASV level", 13, 5.2, true) },
    {
      type: "value", gridIndex: 2, min: -0.325, max: 0.35, axisLine: axisLineDark,
      axisTick: { ...tickDark(), customValues: cTicksY },
      axisLabel: lab(4.4, { margin: 3, formatter: fmt2, customValues: cTicksY }), splitLine: { show: false },
      ...yName("NMDS2", 14, 4.6, true),
    },
    abundanceAxis(3, 4, yName("Relative abundance on Phylum level", 9, 3.6, true)),
    abundanceAxis(4, 3, { offset: -6, ...yName("Relative abundance on Phylum level", 12, 3.3, true) }),
    abundanceAxis(5, 4, yName("Relative abundance on Genus level", 10, 4.3, true)),
    abundanceAxis(6, 3.3, { offset: -7, ...yName("Relative abundance on Genus level", 13.5, 4.4, true) }),
  ];

  const series: any[] = [];

  // A
  series.push(boxSeries(0, 0, chaoBox, 19));
  series.push(medianSeries(0, 0, chaoBox, 9.5));
  series.push(jitterSeries(1, 0, chaoPts, 3.2));
  series.push(sigSeries(1, 0, sigA, sigALabels, sigAColors));
  // B
  series.push(boxSeries(2, 1, shanBox, 23));
  series.push(medianSeries(2, 1, shanBox, 11.5));
  series.push(jitterSeries(3, 1, shanPts, 3.4));
  series.push(sigSeries(3, 1, sigB, sigBLabels, sigBColors));

  // C
  const cStats = nmdsPts.map(stats);
  series.push({
    type: "custom", xAxisIndex: 4, yAxisIndex: 2, silent: true, z: 1,
    data: cStats.map((s, g) => [s.mx, s.my, g]),
    renderItem: (params: any, api: any) => {
      const s = cStats[params.dataIndex];
      const tr = s.sxx + s.syy, det = s.sxx * s.syy - s.sxy * s.sxy;
      const disc = Math.sqrt(Math.max(tr * tr / 4 - det, 0));
      const l1 = tr / 2 + disc, l2 = Math.max(tr / 2 - disc, 0);
      const ang = Math.atan2(l1 - s.sxx, s.sxy);
      const k = 1.7;
      const pts: number[][] = [];
      for (let i = 0; i <= 72; i++) {
        const t = (i / 72) * Math.PI * 2;
        const a = k * Math.sqrt(l1) * Math.cos(t), b = k * Math.sqrt(l2) * Math.sin(t);
        pts.push(api.coord([s.mx + a * Math.cos(ang) - b * Math.sin(ang), s.my + a * Math.sin(ang) + b * Math.cos(ang)]));
      }
      return { type: "polygon", shape: { points: pts }, style: { fill: "none", stroke: cEllColors[params.dataIndex], lineWidth: 0.8 } };
    },
    markLine: {
      silent: true, symbol: "none", label: { show: false },
      lineStyle: { type: [1.5, 1.5], color: "#777", width: 0.6 },
      data: [{ xAxis: 0 }, { yAxis: 0 }],
    },
  });
  series.push({
    type: "custom", xAxisIndex: 4, yAxisIndex: 2, silent: true, z: 2,
    data: nmdsPts.flatMap((arr, g) => arr.map((p) => [p[0], p[1], cStats[g].mx, cStats[g].my])),
    renderItem: (_p: any, api: any) => {
      const a = api.coord([api.value(0), api.value(1)]);
      const b = api.coord([api.value(2), api.value(3)]);
      return { type: "line", shape: { x1: a[0], y1: a[1], x2: b[0], y2: b[1] }, style: { stroke: "#555", lineWidth: 0.5, lineDash: [1.6, 1.2] } };
    },
  });
  nmdsPts.forEach((arr, g) => {
    series.push({
      type: "scatter", name: legendGroups[g], xAxisIndex: 4, yAxisIndex: 2, symbolSize: 4, z: 3, silent: true,
      itemStyle: { color: cDotColors[g] }, data: arr,
    });
  });
  series.push({
    type: "custom", xAxisIndex: 4, yAxisIndex: 2, silent: true, z: 4,
    data: cStats.map((s, g) => [s.mx, s.my, g]),
    renderItem: (params: any, api: any) => {
      const c = api.coord([api.value(0), api.value(1)]);
      return {
        type: "group",
        children: [
          { type: "rect", shape: { x: c[0] - 8, y: c[1] - 3.3, width: 16, height: 6.6 }, style: { fill: "#fff", stroke: "#888", lineWidth: 0.6 } },
          {
            type: "text",
            style: {
              text: centroidLabels[params.dataIndex], x: c[0], y: c[1], fontSize: 3.6, fontFamily: FONT, fill: "#333",
              textAlign: "center", align: "center", textVerticalAlign: "middle", verticalAlign: "middle",
            },
          },
        ],
      };
    },
  });

  // D
  phylumNames.forEach((n, k) => {
    series.push({
      type: "bar", name: n, stack: "D", xAxisIndex: 5, yAxisIndex: 3, barWidth: "62%", silent: true,
      itemStyle: { color: palette[k] }, data: phylumSamples[k],
    });
  });
  series.push(groupUnderline(5, 3, 3.3));
  // E
  phylumNames.forEach((n, k) => {
    series.push({
      type: "bar", name: n, stack: "E", xAxisIndex: 6, yAxisIndex: 4, barWidth: "48%", silent: true,
      itemStyle: { color: palette[k] }, data: phylumGroups[k],
    });
  });
  // F
  genusNames.forEach((n, k) => {
    series.push({
      type: "bar", name: n, stack: "F", xAxisIndex: 7, yAxisIndex: 5, barWidth: "62%", silent: true,
      itemStyle: { color: palette[k] }, data: genusSampleRows.map((r) => r[k]),
    });
  });
  series.push(groupUnderline(7, 5, 3.4));
  // G
  genusNamesG.forEach((n, k) => {
    series.push({
      type: "bar", name: n + " ", stack: "G", xAxisIndex: 8, yAxisIndex: 6, barWidth: "47%", silent: true,
      itemStyle: { color: palette[k] }, data: genusGroupRows.map((r) => r[k]),
    });
  });

  const legend = [
    legendOf(213, 22, legendGroups, boxColors, "rect", 5, 5, 3.2, 5),
    legendOf(483, 22, legendGroups, boxColors, "rect", 5, 5, 3.2, 5),
    legendOf(723, 13.2, legendGroups, cDotColors, "circle", 5, 5, 2.5, 5),
    legendOf(433, 203, phylumNames, palette, "rect", 3.5, 3.5, 3.7, 3.5),
    legendOf(712, 226, phylumNames, palette, "rect", 3, 2.8, 2.6, 3.1),
    legendOf(430, 380.7, genusNames, palette, "rect", 4.3, 4.3, 3.6, 4.0),
    legendOf(712, 372, genusNamesG.map((n) => n + " "), palette, "rect", 3.3, 3.3, 4.55, 2.9),
  ];

  const graphic = [
    txt("A", 6, 8, 12, { align: "left" }),
    txt("B", 252, 8, 12, { align: "left" }),
    txt("C", 513, 6.5, 12, { align: "left" }),
    txt("D", 7, 192, 12, { align: "left" }),
    txt("E", 516, 192, 12, { align: "left" }),
    txt("F", 5, 365, 12, { align: "left" }),
    txt("G", 509, 366, 12, { align: "left" }),
    txt("Two-way ANOVA", 108, 15, 8.5, { color: "#333" }),
    txt("Two-way ANOVA", 361, 14, 8.5, { color: "#333" }),
    txt("NMDS on ASV level", 655, 4.3, 4.6, { weight: "bold", scaleX: 0.78 }),
    txt("stress: 0.114, R=0.2745, P=0.001000", 655, 10.8, 3, { scaleX: 0.85, color: "#333" }),
    txt("Community barplot analysis", 259, 184, 6.3, { weight: "bold" }),
    txt("Community barplot analysis", 644, 211, 4.2, { weight: "bold" }),
    txt("Community barplot analysis", 651.7, 351.7, 6.5, { weight: "bold", scaleX: 0.69 }),
    txt("Community barplot analysis", 259, 361, 6.3, { weight: "bold" }),
  ];

  return {
    animation: false,
    backgroundColor: "#fff",
    textStyle: { fontFamily: FONT },
    grid: grids,
    xAxis,
    yAxis,
    legend,
    series,
    graphic,
  };
}

export default function App() {
  const ref = useRef<HTMLDivElement>(null);
  useEffect(() => {
    document.body.style.margin = "0";
    const chart = echarts.init(ref.current as HTMLDivElement, null, { renderer: "svg" });
    chart.setOption(buildOption() as any);
    return () => chart.dispose();
  }, []);
  return <div ref={ref} style={{ width: 777, height: 535, background: "#fff" }} />;
}
